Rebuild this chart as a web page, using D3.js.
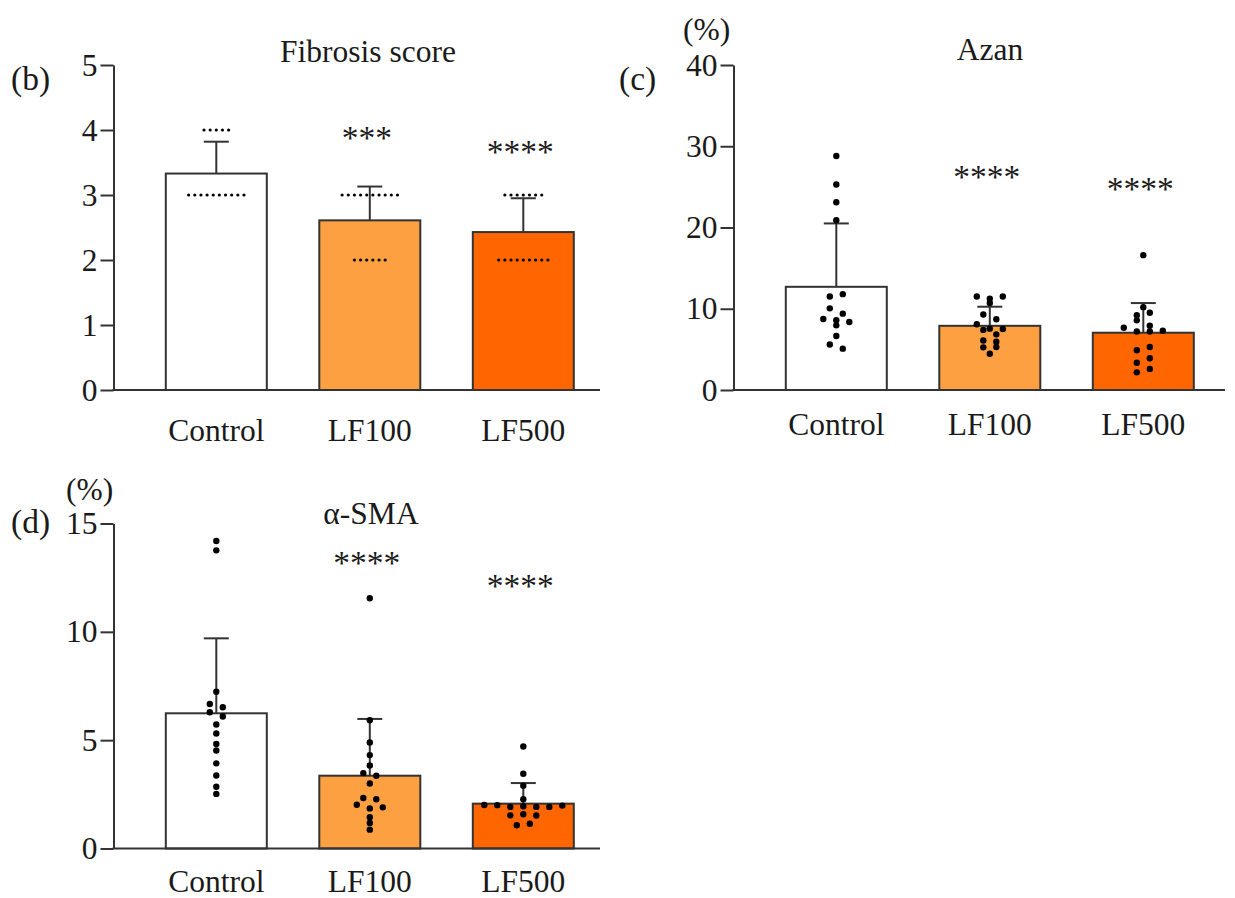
<!DOCTYPE html>
<html><head><meta charset="utf-8">
<script src="https://cdn.jsdelivr.net/npm/d3@7"></script>
<style>
body{margin:0;background:#fff}
text{font-family:"Liberation Serif","Times New Roman",serif;fill:#1a1a1a}
</style></head>
<body><svg id="c" width="1235" height="898"></svg>
<script>
// ---------- DATA ----------
const categories = ["Control", "LF100", "LF500"];
const barColors = ["#ffffff", "#fca042", "#ff6600"];

// (b) Fibrosis score
const fibrosisTicks = [0, 1, 2, 3, 4, 5];
const fibrosisMean = [3.33, 2.61, 2.43];
const fibrosisSD = [0.49, 0.52, 0.52];
const fibrosisControl = [4, 4, 4, 4, 4, 3, 3, 3, 3, 3, 3, 3, 3, 3, 3];
const fibrosisLF100 = [3, 3, 3, 3, 3, 3, 3, 3, 3, 3, 2, 2, 2, 2, 2, 2];
const fibrosisLF500 = [3, 3, 3, 3, 3, 3, 3, 2, 2, 2, 2, 2, 2, 2, 2, 2];
const fibrosisStars = ["", "***", "****"];
const fibrosisStarY = [null, 3.94, 3.73];

// (c) Azan (%)
const azanTicks = [0, 10, 20, 30, 40];
const azanMean = [12.7, 7.9, 7.05];
const azanSD = [7.8, 2.35, 3.65];
const azanControl = [28.8, 25.3, 23.1, 20.9, 11.5, 11.8, 10.05, 9.4, 8.74, 8.6, 8.37, 7.96, 6.65, 5.6, 5.09];
const azanLF100 = [11.5, 11.25, 10.7, 11.5, 9.3, 8.7, 8.1, 7.4, 6.85, 7.55, 7.5, 6.1, 5.25, 5.95, 5.3, 4.47];
const azanLF500 = [16.6, 10.2, 9.2, 9.5, 8.57, 7.67, 7.9, 7.2, 7.2, 7.3, 4.9, 5.3, 3.36, 3.9, 2.17, 2.6];
const azanStars = ["", "****", "****"];
const azanStarY = [null, 26.7, 25.2];

// (d) α-SMA (%)
const smaTicks = [0, 5, 10, 15];
const smaMean = [6.24, 3.36, 2.07];
const smaSD = [3.46, 2.62, 0.95];
const smaControl = [14.19, 13.76, 7.24, 6.67, 6.52, 6.29, 6.09, 5.72, 5.31, 4.82, 4.52, 3.93, 3.37, 2.85, 2.52];
const smaLF100 = [11.55, 5.92, 4.89, 4.31, 3.83, 3.48, 3.36, 3.0, 2.33, 2.27, 2.02, 1.85, 1.9, 1.44, 1.18, 0.87];
const smaLF500 = [4.71, 3.45, 2.9, 2.27, 2.01, 2.0, 1.92, 1.95, 1.92, 1.92, 1.98, 1.53, 1.58, 1.52, 1.07, 1.14];
const smaStars = ["", "****", "****"];
const smaStarY = [null, 13.34, 12.28];

// ---------- DRAW ----------
const svg = d3.select("#c");
const FS = 31.5;

function swarm(vals, y, step, tol) {
  const pts = vals.map((v, i) => ({v, py: y(v), i})).sort((a, b) => a.py - b.py || a.i - b.i);
  const rows = []; let cur = null;
  for (const p of pts) {
    if (cur && p.py - cur.start <= tol) cur.items.push(p);
    else { cur = {start: p.py, items: [p]}; rows.push(cur); }
  }
  rows.forEach(r => {
    const n = r.items.length;
    r.items.sort((a, b) => a.i - b.i).forEach((p, k) => p.dx = (k - (n - 1) / 2) * step);
  });
  return pts;
}

function panel(cfg) {
  const g = svg.append("g");
  const y = d3.scaleLinear().domain([0, cfg.max]).range([cfg.yBottom, cfg.yTop]);
  const x = d3.scalePoint().domain(categories).range(cfg.centers);
  const bw = 101;

  g.selectAll("rect.bar").data(categories).join("rect")
    .attr("x", d => x(d) - bw / 2)
    .attr("y", (d, i) => y(cfg.mean[i]))
    .attr("width", bw)
    .attr("height", (d, i) => y(0) - y(cfg.mean[i]))
    .attr("fill", (d, i) => barColors[i])
    .attr("stroke", "#333").attr("stroke-width", 2);

  categories.forEach((c, i) => {
    const cx = x(c), top = y(cfg.mean[i] + cfg.sd[i]);
    g.append("line").attr("x1", cx).attr("x2", cx).attr("y1", y(cfg.mean[i])).attr("y2", top)
      .attr("stroke", "#333").attr("stroke-width", 2);
    g.append("line").attr("x1", cx - 12.5).attr("x2", cx + 12.5).attr("y1", top).attr("y2", top)
      .attr("stroke", "#333").attr("stroke-width", 2);
  });

  cfg.points.forEach((vals, i) => {
    const pts = swarm(vals, y, cfg.step, cfg.tol);
    g.selectAll(null).data(pts).join("circle")
      .attr("cx", p => x(categories[i]) + p.dx)
      .attr("cy", p => p.py)
      .attr("r", cfg.r).attr("fill", "#000");
  });

  const ax = g.append("g").attr("transform", `translate(${cfg.x0},0)`)
    .call(d3.axisLeft(y).tickValues(cfg.ticks).tickSize(13).tickSizeOuter(0).tickPadding(3).tickFormat(d3.format("d")));
  ax.select(".domain").attr("stroke", "#333").attr("stroke-width", 2);
  ax.selectAll(".tick line").attr("stroke", "#333").attr("stroke-width", 2);
  ax.selectAll(".tick text").attr("font-size", FS).attr("fill", "#1a1a1a")
    .attr("font-family", '"Liberation Serif",serif');

  g.append("line").attr("x1", cfg.x0 - 1).attr("x2", cfg.xEnd).attr("y1", y(0)).attr("y2", y(0))
    .attr("stroke", "#333").attr("stroke-width", 2);

  g.selectAll("text.cat").data(categories).join("text").attr("class", "cat")
    .attr("x", d => x(d)).attr("y", cfg.catY).attr("text-anchor", "middle")
    .attr("font-size", FS).text(d => d);

  cfg.stars.forEach((s, i) => {
    if (!s) return;
    g.append("text").attr("x", x(categories[i]) - 3).attr("y", y(cfg.starY[i]) + 15)
      .attr("text-anchor", "middle").attr("font-size", FS + 2).text(s);
  });

  g.append("text").attr("x", cfg.titleX).attr("y", cfg.titleY).attr("text-anchor", "middle")
    .attr("font-size", FS).text(cfg.title);
  g.append("text").attr("x", cfg.letterX).attr("y", cfg.letterY).attr("font-size", FS + 2).text(cfg.letter);
  if (cfg.unit) g.append("text").attr("x", cfg.unitX).attr("y", cfg.unitY).attr("font-size", FS).text(cfg.unit);
}

panel({
  x0: 113.5, xEnd: 600, yTop: 65, yBottom: 390, max: 5, centers: [216.3, 523.3],
  ticks: fibrosisTicks, mean: fibrosisMean, sd: fibrosisSD,
  points: [fibrosisControl, fibrosisLF100, fibrosisLF500], r: 1.6, step: 6.15, tol: 0.5,
  stars: fibrosisStars, starY: fibrosisStarY, catY: 441,
  title: "Fibrosis score", titleX: 368, titleY: 62, letter: "(b)", letterX: 11, letterY: 90
});
panel({
  x0: 733.5, xEnd: 1225, yTop: 65, yBottom: 390, max: 40, centers: [836.3, 1143.3],
  ticks: azanTicks, mean: azanMean, sd: azanSD,
  points: [azanControl, azanLF100, azanLF500], r: 3.2, step: 13, tol: 5.5,
  stars: azanStars, starY: azanStarY, catY: 435,
  title: "Azan", titleX: 990, titleY: 60, letter: "(c)", letterX: 619, letterY: 90,
  unit: "(%)", unitX: 683, unitY: 40
});
panel({
  x0: 113.5, xEnd: 600, yTop: 523.5, yBottom: 848.5, max: 15, centers: [216.3, 523.3],
  ticks: smaTicks, mean: smaMean, sd: smaSD,
  points: [smaControl, smaLF100, smaLF500], r: 3.2, step: 13, tol: 5.5,
  stars: smaStars, starY: smaStarY, catY: 892,
  title: "α-SMA", titleX: 371, titleY: 524, letter: "(d)", letterX: 11, letterY: 533,
  unit: "(%)", unitX: 66, unitY: 500
});
</script></body></html>
